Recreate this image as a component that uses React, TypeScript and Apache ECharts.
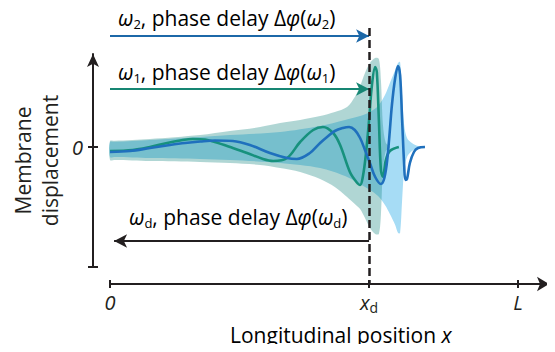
import { useEffect, useRef } from "react";
import * as echarts from "echarts";

const FONT = "'Open Sans', 'Noto Sans', sans-serif";
const INK = "#231f20";
const BLUE_TEXT = "#1c68a8";
const GREEN_TEXT = "#168673";
const BLUE_LINE = "#1f70bd";
const GREEN_LINE = "#17917d";
const GREEN_ENV = "rgba(29,137,131,0.35)";
const BLUE_ENV = "#a6dcf5";

// positions along the membrane (0 = base, 1 = L)
const X_D = 0.635;
const X_L = 1;
const X_MAX = 1.076;

const xTickValues = [0, X_D, X_L];
const xTickLabels = ["{i|0}", "{i|x}{s|d}", "{i|L}"];
const yTickValues = [-1.2, 0];
const yLabelValues = [0];

// annotation arrows (data units)
const arrowW2Y = 1.11;
const arrowW1Y = 0.58;
const arrowWdY = -0.94;
const arrowWdEnd = 0.01;
const dashTop = 1.19;
const dashBottom = -1.37;

// ω1 (green) wave
const greenWaveX = [0, 0.056, 0.098, 0.14, 0.172, 0.203, 0.233, 0.257, 0.301, 0.336, 0.375, 0.4, 0.434, 0.466, 0.498, 0.522, 0.547, 0.564, 0.588, 0.604, 0.613, 0.62, 0.627, 0.635, 0.642, 0.65, 0.654, 0.659, 0.664, 0.669, 0.676, 0.686, 0.708];
const greenWaveY = [-0.04, -0.03, 0, 0.04, 0.065, 0.08, 0.075, 0.05, -0.01, -0.06, -0.12, -0.14, -0.11, 0.05, 0.17, 0.2, 0.14, 0.02, -0.25, -0.35, -0.38, -0.29, -0.08, 0.27, 0.62, 0.8, 0.75, 0.27, -0.23, -0.3, -0.13, -0.04, 0];

// ω2 (blue) wave
const blueWaveX = [0, 0.049, 0.098, 0.147, 0.184, 0.221, 0.257, 0.301, 0.343, 0.392, 0.434, 0.458, 0.49, 0.515, 0.532, 0.551, 0.571, 0.586, 0.6, 0.613, 0.625, 0.637, 0.65, 0.664, 0.671, 0.678, 0.684, 0.691, 0.699, 0.706, 0.711, 0.716, 0.721, 0.724, 0.728, 0.735, 0.745, 0.755, 0.772];
const blueWaveY = [-0.05, -0.04, -0.01, 0.02, 0.04, 0.055, 0.065, 0.06, 0.02, -0.06, -0.11, -0.12, -0.06, 0.04, 0.1, 0.16, 0.19, 0.2, 0.17, 0.09, -0.03, -0.16, -0.3, -0.37, -0.33, -0.18, 0.07, 0.42, 0.69, 0.81, 0.72, 0.27, -0.18, -0.33, -0.32, -0.16, -0.05, -0.01, 0];

// ω1 envelope
const greenEnvX = [0, 0.012, 0.098, 0.221, 0.294, 0.368, 0.417, 0.466, 0.515, 0.551, 0.581, 0.6, 0.613, 0.625, 0.637, 0.65, 0.659, 0.664, 0.669, 0.676, 0.686];
const greenEnvUp = [0.06, 0.062, 0.08, 0.12, 0.16, 0.2, 0.24, 0.27, 0.31, 0.35, 0.4, 0.5, 0.61, 0.74, 0.84, 0.89, 0.88, 0.67, 0.22, 0.04, 0];
const greenEnvLo = [-0.13, -0.13, -0.14, -0.15, -0.16, -0.18, -0.21, -0.25, -0.32, -0.4, -0.5, -0.57, -0.62, -0.71, -0.81, -0.87, -0.87, -0.68, -0.23, -0.04, 0];

// ω2 envelope
const blueEnvX = [0, 0.012, 0.098, 0.221, 0.294, 0.417, 0.515, 0.576, 0.613, 0.637, 0.657, 0.674, 0.686, 0.699, 0.706, 0.711, 0.716, 0.721, 0.728, 0.74, 0.755, 0.772];
const blueEnvUp = [0.05, 0.052, 0.07, 0.1, 0.12, 0.15, 0.21, 0.27, 0.31, 0.35, 0.41, 0.52, 0.64, 0.77, 0.84, 0.85, 0.52, 0.22, 0.09, 0.04, 0.01, 0];
const blueEnvLo = [-0.1, -0.1, -0.11, -0.12, -0.13, -0.16, -0.21, -0.29, -0.37, -0.43, -0.49, -0.58, -0.67, -0.78, -0.86, -0.86, -0.53, -0.23, -0.1, -0.04, -0.015, 0];

const pairs = (xs: number[], ys: number[]) => xs.map((x, i) => [x, ys[i]]);

function envelope(id: string, xs: number[], up: number[], lo: number[], color: string) {
  return {
    type: "custom", id, coordinateSystem: "cartesian2d", xAxisIndex: 2, yAxisIndex: 2,
    clip: false, silent: true,
    data: xs.map((x, i) => [x, up[i], lo[i]]),
    encode: { x: 0, y: [1, 2] },
    renderItem: (params: any, api: any) => {
      if (params.dataIndex !== 0) return null;
      const pts: number[][] = [];
      for (let i = 0; i < xs.length; i++) pts.push(api.coord([xs[i], up[i]]));
      const n = xs.length - 1;
      const start = up[n] === lo[n] ? n - 1 : n;
      for (let i = start; i >= 0; i--) pts.push(api.coord([xs[i], lo[i]]));
      return { type: "polygon", shape: { points: pts, smooth: 0.3 }, style: { fill: color }, silent: true };
    },
  };
}

const rich = (color: string) => ({
  a: { fontSize: 21, fontFamily: FONT, color, lineHeight: 26 },
  g: { fontSize: 21, fontFamily: FONT, color, lineHeight: 26, fontStyle: "italic" },
  s: { fontSize: 13, fontFamily: FONT, color, lineHeight: 13, verticalAlign: "bottom" },
});

const arrowLabel = (sub: string) =>
  `{g|ω}{s|${sub}}{a|, phase delay Δ}{g|φ}{a|(}{g|ω}{s|${sub}}{a|)}`;

export default function App() {
  const ref = useRef<HTMLDivElement>(null);
  useEffect(() => {
    if (!ref.current) return;
    const chart = echarts.init(ref.current, null, { renderer: "svg" });
    const axisLineStyle = { color: INK, width: 2 };
    const option: any = {
      animation: false,
      textStyle: { fontFamily: FONT },
      grid: [
        { left: 110, right: 6, top: 54, bottom: 85, outerBoundsMode: "none" },
        { left: 110, right: 6, top: 7, bottom: 62, outerBoundsMode: "none" },
      ],
      xAxis: [
        {
          gridIndex: 0, type: "value", min: 0, max: X_MAX, position: "bottom", offset: 17,
          axisLine: { show: true, onZero: false, symbol: ["none", "arrow"], symbolSize: [11, 12], lineStyle: axisLineStyle },
          axisTick: { show: true, customValues: xTickValues, length: 4, lineStyle: axisLineStyle },
          axisLabel: {
            show: true, customValues: xTickValues, margin: 6,
            formatter: (v: number) => {
              const i = xTickValues.findIndex((t) => Math.abs(t - v) < 1e-6);
              return i >= 0 ? xTickLabels[i] : "";
            },
            rich: {
              i: { fontSize: 20, fontStyle: "italic", color: INK, fontFamily: FONT, lineHeight: 24 },
              s: { fontSize: 14, color: INK, fontFamily: FONT, lineHeight: 14, verticalAlign: "bottom" },
            },
          },
          splitLine: { show: false },
        },
        {
          gridIndex: 0, type: "value", min: 0, max: X_MAX, position: "bottom", offset: 17,
          axisLine: { show: false, onZero: false },
          axisTick: { show: true, inside: true, customValues: xTickValues, length: 4, lineStyle: axisLineStyle },
          axisLabel: { show: false }, splitLine: { show: false },
        },
        { gridIndex: 1, type: "value", min: 0, max: X_MAX, show: false },
      ],
      yAxis: [
        {
          gridIndex: 0, type: "value", min: -1.2, max: 0.93, position: "left", offset: 17,
          axisLine: { show: true, onZero: false, symbol: ["none", "arrow"], symbolSize: [9, 13], lineStyle: axisLineStyle },
          axisTick: { show: true, customValues: yTickValues, length: 5, lineStyle: axisLineStyle },
          axisLabel: {
            show: true, customValues: yLabelValues, margin: 10, formatter: () => "0",
            fontSize: 20, fontStyle: "italic", color: INK, fontFamily: FONT,
          },
          splitLine: { show: false },
          name: "Membrane\ndisplacement", nameLocation: "middle", nameGap: 30, nameMoveOverlap: false,
          nameTextStyle: { fontSize: 21, lineHeight: 27, color: INK, fontFamily: FONT },
        },
        {
          gridIndex: 0, type: "value", min: -1.2, max: 0.93, position: "left", offset: 17,
          axisLine: { show: false, onZero: false },
          axisTick: { show: true, inside: true, customValues: yTickValues, length: 5, lineStyle: axisLineStyle },
          axisLabel: { show: false }, splitLine: { show: false },
        },
        { gridIndex: 1, type: "value", min: -1.43, max: 1.4, show: false },
      ],
      series: [
        envelope("blueEnv", blueEnvX, blueEnvUp, blueEnvLo, BLUE_ENV),
        envelope("greenEnv", greenEnvX, greenEnvUp, greenEnvLo, GREEN_ENV),
        {
          type: "line", id: "w1", xAxisIndex: 2, yAxisIndex: 2, data: pairs(greenWaveX, greenWaveY),
          symbol: "none", smooth: 0.35, lineStyle: { width: 2.6, color: GREEN_LINE }, silent: true,
        },
        {
          type: "line", id: "w2", xAxisIndex: 2, yAxisIndex: 2, data: pairs(blueWaveX, blueWaveY),
          symbol: "none", smooth: 0.35, lineStyle: { width: 2.6, color: BLUE_LINE }, silent: true,
        },
        {
          type: "line", id: "annot", xAxisIndex: 2, yAxisIndex: 2, data: [], clip: false, silent: true,
          markLine: {
            silent: true, animation: false, label: { show: false },
            symbol: ["none", "none"],
            data: [
              [
                { coord: [0, arrowW2Y], symbol: "none", lineStyle: { color: BLUE_TEXT, width: 2, type: "solid" } },
                { coord: [X_D, arrowW2Y], symbol: "arrow", symbolSize: [10, 13] },
              ],
              [
                { coord: [0, arrowW1Y], symbol: "none", lineStyle: { color: GREEN_TEXT, width: 2, type: "solid" } },
                { coord: [X_D, arrowW1Y], symbol: "arrow", symbolSize: [10, 13] },
              ],
              [
                { coord: [X_D, arrowWdY], symbol: "none", lineStyle: { color: INK, width: 2, type: "solid" } },
                { coord: [arrowWdEnd, arrowWdY], symbol: "arrow", symbolSize: [10, 13] },
              ],
              [
                { coord: [X_D, dashTop], symbol: "none", lineStyle: { color: INK, width: 2.5, type: [8, 4] } },
                { coord: [X_D, dashBottom], symbol: "none" },
              ],
            ],
          },
        },
      ],
      graphic: [
        { type: "text", left: 118, top: 7, silent: true, style: { text: arrowLabel("2"), rich: rich(BLUE_TEXT) } },
        { type: "text", left: 118, top: 61, silent: true, style: { text: arrowLabel("1"), rich: rich(GREEN_TEXT) } },
        { type: "text", left: 129, top: 206, silent: true, style: { text: arrowLabel("d"), rich: rich(INK) } },
        {
          type: "text", left: 230, top: 324, silent: true,
          style: { text: "{a|Longitudinal position }{g|x}", rich: rich(INK) },
        },
      ],
    };
    chart.setOption(option);
    return () => chart.dispose();
  }, []);
  return <div ref={ref} style={{ width: 555, height: 352, margin: -8 }} />;
}
